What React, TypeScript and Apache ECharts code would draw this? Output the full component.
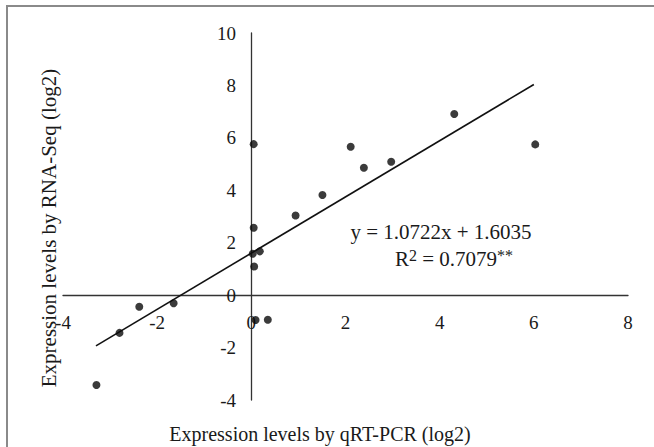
import React, { useEffect, useRef } from "react";
import * as echarts from "echarts";

const qrtPcr = [-3.29, -2.8, -2.38, -1.65, 0.05, 0.05, 0.03, 0.18, 0.06, 0.09, 0.35, 0.94, 1.51, 2.11, 2.39, 2.97, 4.31, 6.03];
const rnaSeq = [-3.43, -1.44, -0.44, -0.31, 5.76, 2.57, 1.58, 1.67, 1.09, -0.95, -0.94, 3.04, 3.82, 5.66, 4.86, 5.09, 6.91, 5.75];
const slope = 1.0722;
const intercept = 1.6035;
const trendX = [-3.3, 6.0];
const xTicks = [-4, -2, 0, 2, 4, 6, 8];
const yTicks = [-4, -2, 0, 2, 4, 6, 8, 10];
const xTitle = "Expression levels by qRT-PCR (log2)";
const yTitle = "Expression levels by RNA-Seq (log2)";
const eqLine = "y = 1.0722x + 1.6035";

const FONT = "'Liberation Serif', 'Times New Roman', serif";

export default function App() {
  const ref = useRef<HTMLDivElement>(null);
  useEffect(() => {
    if (!ref.current) return;
    const chart = echarts.init(ref.current, null, { renderer: "svg" });
    const points = qrtPcr.map((x, i) => [x, rnaSeq[i]]);
    const trend = trendX.map((x) => [x, slope * x + intercept]);
    chart.setOption({
      animation: false,
      backgroundColor: "#ffffff",
      grid: { left: 63, right: 26, top: 33, bottom: 47 },
      xAxis: {
        type: "value",
        position: "bottom",
        offset: -105,
        min: xTicks[0],
        max: xTicks[xTicks.length - 1],
        interval: 2,
        axisLine: { onZero: false, lineStyle: { color: "#333333", width: 1.3 } },
        axisTick: { show: false },
        splitLine: { show: false },
        axisLabel: {
          margin: 18,
          fontFamily: FONT,
          fontSize: 19,
          color: "#1a1a1a",
          formatter: (v: number) => String(v),
        },
      },
      yAxis: {
        type: "value",
        position: "left",
        offset: -188,
        min: yTicks[0],
        max: yTicks[yTicks.length - 1],
        interval: 2,
        axisLine: { onZero: false, lineStyle: { color: "#333333", width: 1.3 } },
        axisTick: { show: false },
        splitLine: { show: false },
        axisLabel: {
          margin: 15,
          fontFamily: FONT,
          fontSize: 19,
          color: "#1a1a1a",
          formatter: (v: number) => String(v),
        },
      },
      series: [
        {
          type: "line",
          data: trend,
          symbol: "none",
          lineStyle: { color: "#111111", width: 1.6 },
          z: 2,
        },
        {
          type: "scatter",
          data: points,
          symbol: "circle",
          symbolSize: 8,
          itemStyle: { color: "#0a0a0a" },
          z: 3,
        },
      ],
      graphic: [
        {
          type: "rect",
          shape: { x: 7, y: 6, width: 700, height: 500 },
          style: { fill: "none", stroke: "#8a8a8a", lineWidth: 2 },
          silent: true,
        },
        {
          type: "text",
          x: 320,
          y: 434,
          style: {
            text: xTitle,
            fontFamily: FONT,
            fontSize: 20,
            fill: "#1a1a1a",
            align: "center",
            verticalAlign: "middle",
          },
        },
        {
          type: "text",
          x: 49,
          y: 228,
          rotation: Math.PI / 2,
          style: {
            text: yTitle,
            fontFamily: FONT,
            fontSize: 21,
            fill: "#1a1a1a",
            align: "center",
            verticalAlign: "middle",
          },
        },
        {
          type: "text",
          x: 441,
          y: 232,
          style: {
            text: eqLine,
            fontFamily: FONT,
            fontSize: 21,
            fill: "#1a1a1a",
            align: "center",
            verticalAlign: "middle",
          },
        },
        {
          type: "text",
          x: 454,
          y: 259,
          style: {
            text: "{n|R}{s|2}{n| = 0.7079}{s|**}",
            align: "center",
            verticalAlign: "middle",
            rich: {
              n: { fontFamily: FONT, fontSize: 21, fill: "#1a1a1a", color: "#1a1a1a" },
              s: { fontFamily: FONT, fontSize: 16, fill: "#1a1a1a", color: "#1a1a1a", verticalAlign: "top", padding: [0, 0, 8, 0] },
            },
          },
        },
      ],
    });
    return () => chart.dispose();
  }, []);
  return (
    <div
      ref={ref}
      style={{ position: "fixed", left: 0, top: 0, width: 654, height: 447 }}
    />
  );
}
